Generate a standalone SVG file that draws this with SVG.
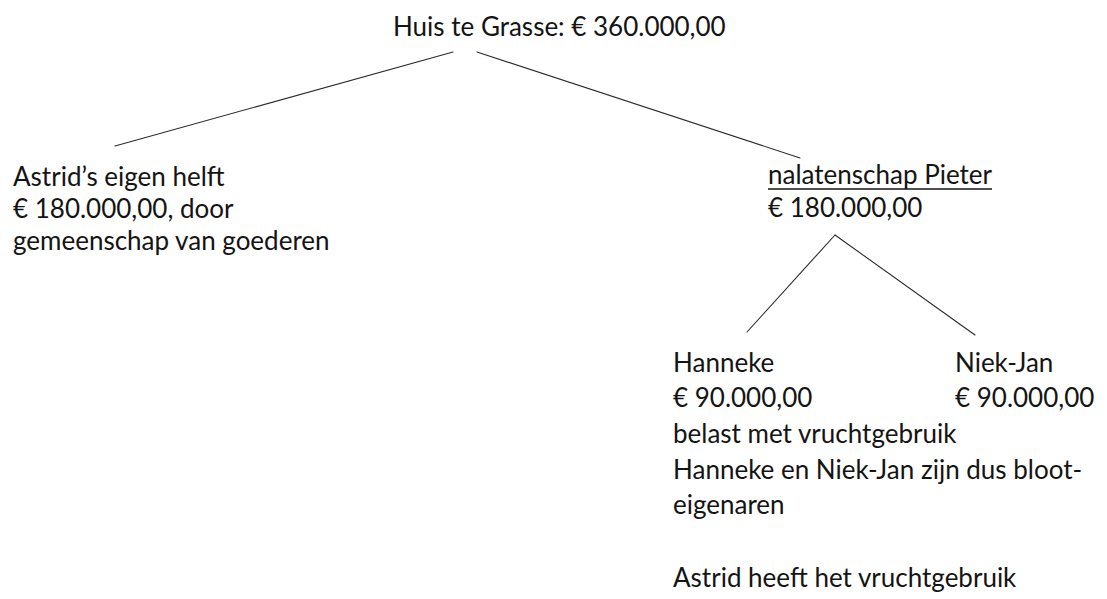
<svg xmlns="http://www.w3.org/2000/svg" width="1107" height="599" viewBox="0 0 1107 599">
  <style>
    .t { font-family: Lato, "Liberation Sans", sans-serif; font-size: 26px; fill: #141414; }
    .c { stroke: #2a2a2a; stroke-width: 1.1; fill: none; stroke-linecap: round; }
  </style>
  <rect width="1107" height="599" fill="#ffffff"/>
  <g id="connectors">
    <line class="c" x1="453" y1="52" x2="115" y2="146"/>
    <line class="c" x1="477" y1="52" x2="800" y2="158"/>
    <line class="c" x1="835" y1="235" x2="747" y2="332"/>
    <line class="c" x1="835" y1="235" x2="975" y2="335"/>
  </g>
  <g id="root">
    <text class="t" x="393" y="36">Huis te Grasse: € 360.000,00</text>
  </g>
  <g id="astrid">
    <text class="t" x="13" y="186">Astrid’s eigen helft</text>
    <text class="t" x="13" y="218">€ 180.000,00, door</text>
    <text class="t" x="13" y="250">gemeenschap van goederen</text>
  </g>
  <g id="nalatenschap">
    <text class="t" x="768" y="184">nalatenschap Pieter</text>
    <line x1="768" y1="189" x2="992" y2="189" stroke="#141414" stroke-width="1.5"/>
    <text class="t" x="768" y="217">€ 180.000,00</text>
  </g>
  <g id="hanneke">
    <text class="t" x="673" y="372">Hanneke</text>
    <text class="t" x="673" y="407">€ 90.000,00</text>
  </g>
  <g id="niekjan">
    <text class="t" x="955" y="372">Niek-Jan</text>
    <text class="t" x="955" y="407">€ 90.000,00</text>
  </g>
  <g id="note">
    <text class="t" x="673" y="443">belast met vruchtgebruik</text>
    <text class="t" x="673" y="479">Hanneke en Niek-Jan zijn dus bloot-</text>
    <text class="t" x="673" y="514">eigenaren</text>
    <text class="t" x="673" y="587">Astrid heeft het vruchtgebruik</text>
  </g>
</svg>
